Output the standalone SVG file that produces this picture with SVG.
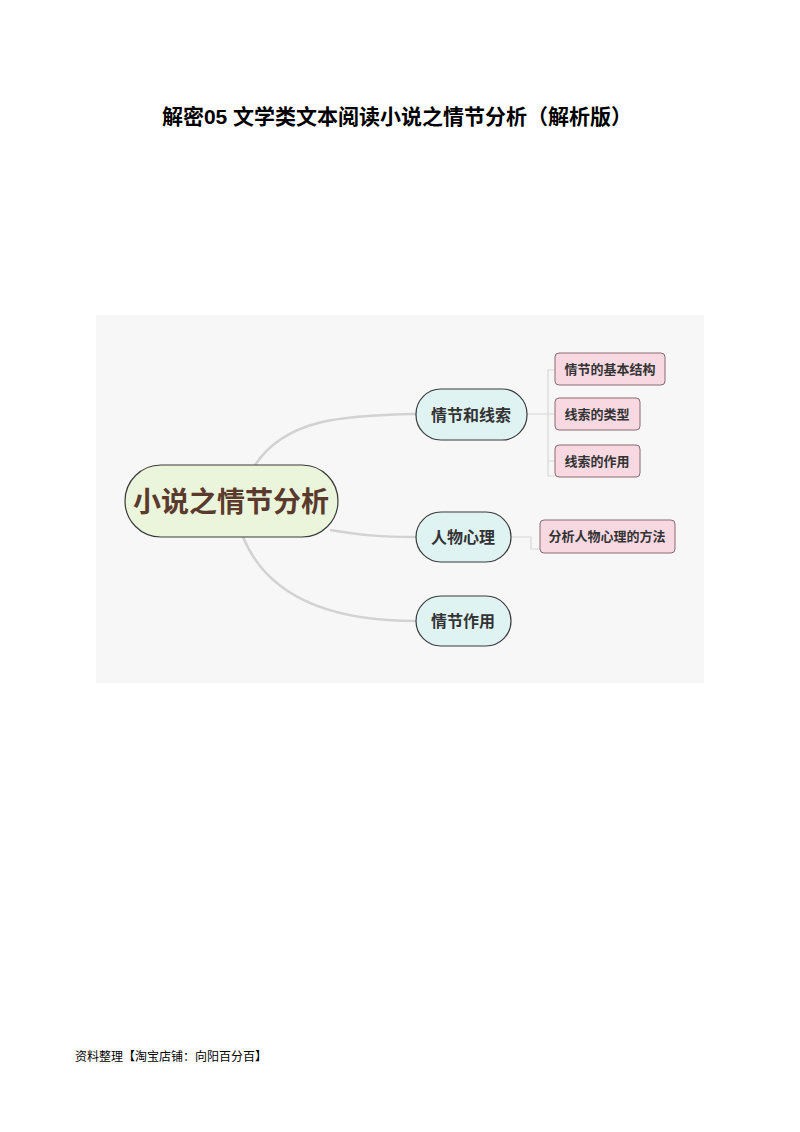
<svg xmlns="http://www.w3.org/2000/svg" width="800" height="1132" viewBox="0 0 800 1132">
<style>
.t{font-family:"Liberation Sans","Noto Sans CJK SC",sans-serif;font-weight:bold}
.c{fill:none;stroke:#d2d2d2;stroke-width:2.5}
.b{fill:none;stroke:#d8d8d8;stroke-width:1.2}
.sec{fill:#dff3f3;stroke:#3a3a3a;stroke-width:1.2}
.leaf{fill:#f8d9e2;stroke:#8a6a72;stroke-width:1}
.st{font-size:16px;fill:#333;text-anchor:middle}
.lt{font-size:13px;fill:#333;text-anchor:middle}
</style>
<rect width="800" height="1132" fill="#fff"/>
<text class="t" x="397" y="124" font-size="21" text-anchor="middle" fill="#000">解密05  文学类文本阅读小说之情节分析（解析版）</text>
<rect x="96" y="315" width="608" height="368" fill="#f7f7f7"/>
<g id="connectors">
<path class="c" d="M255 465 C285 420 340 415 416 414"/>
<path class="c" d="M330 530 C360 535 380 537 416 537"/>
<path class="c" d="M243 537 C265 590 320 621 416 621"/>
<path class="b" d="M527 414 H548 M555 370 H548 V476 H555 M548 414 H555 M548 461 H555"/>
<path class="b" d="M511 537 H531 V549 H540"/>
</g>
<g id="root"><rect x="125" y="465" width="213" height="72" rx="36" fill="#eaf5dc" stroke="#3a3a3a" stroke-width="1.2"/>
<text class="t" x="231" y="512" font-size="28" fill="#5a3a2c" text-anchor="middle">小说之情节分析</text></g>
<g id="n1"><rect class="sec" x="416" y="389" width="111" height="51" rx="25"/><text class="t st" x="471" y="421">情节和线索</text></g>
<g id="n2"><rect class="sec" x="416" y="512" width="95" height="50" rx="25"/><text class="t st" x="463" y="543">人物心理</text></g>
<g id="n3"><rect class="sec" x="416" y="596" width="95" height="50" rx="25"/><text class="t st" x="463" y="627">情节作用</text></g>
<g id="l1"><rect class="leaf" x="555" y="353" width="110" height="32" rx="4"/><text class="t lt" x="610" y="374">情节的基本结构</text></g>
<g id="l2"><rect class="leaf" x="555" y="398" width="85" height="32" rx="4"/><text class="t lt" x="597" y="419">线索的类型</text></g>
<g id="l3"><rect class="leaf" x="555" y="445" width="85" height="32" rx="4"/><text class="t lt" x="597" y="466">线索的作用</text></g>
<g id="l4"><rect class="leaf" x="540" y="520" width="135" height="33" rx="4"/><text class="t lt" x="607" y="541">分析人物心理的方法</text></g>
<text x="75" y="1061" font-size="12" font-family="'Liberation Serif','Noto Sans CJK SC',serif" fill="#000">资料整理【淘宝店铺：向阳百分百】</text>
</svg>
